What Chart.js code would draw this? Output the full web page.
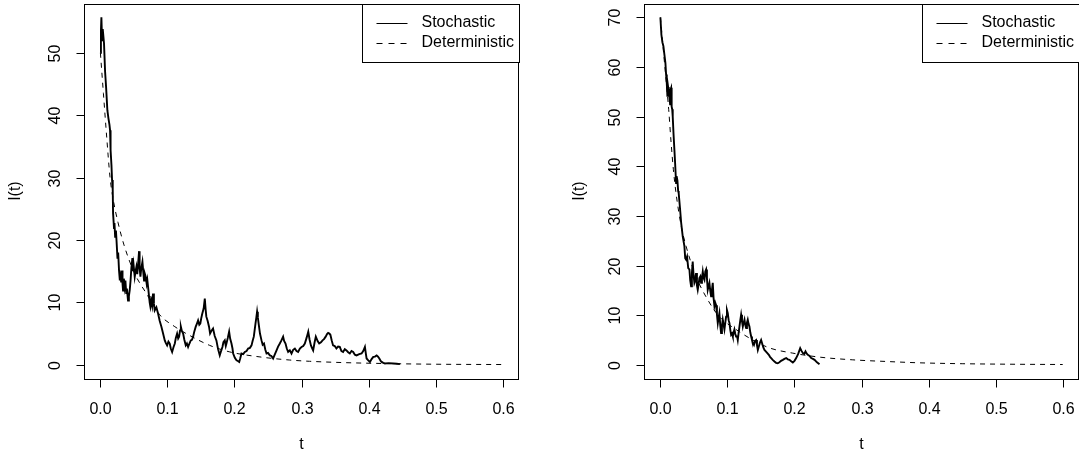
<!DOCTYPE html>
<html>
<head>
<meta charset="utf-8">
<title>I(t): stochastic vs deterministic</title>
<script src="https://cdn.jsdelivr.net/npm/chart.js@4/dist/chart.umd.min.js"></script>
<style>
  html, body { margin: 0; padding: 0; background: #fff; }
  body { width: 1079px; height: 457px; overflow: hidden; position: relative; }
  .panel { position: absolute; top: 0; width: 560px; height: 457px; }
</style>
</head>
<body>
<div class="panel" style="left:0"><canvas id="leftChart" width="560" height="457"></canvas></div>
<div class="panel" style="left:560px"><canvas id="rightChart" width="560" height="457"></canvas></div>
<script>
// tick labels and legend text
const xTicks = [0, 0.1, 0.2, 0.3, 0.4, 0.5, 0.6];
const yTicksLeft = [0, 10, 20, 30, 40, 50];
const yTicksRight = [0, 10, 20, 30, 40, 50, 60, 70];
const seriesNames = ['Stochastic', 'Deterministic'];

// left panel, stochastic path
const leftStochT = [0, 0.0008, 0.0015, 0.0025, 0.0035, 0.0054, 0.0070, 0.0085, 0.0104, 0.0120, 0.0135, 0.0144, 0.0150, 0.0154, 0.0165, 0.0174, 0.0184, 0.0189, 0.0203, 0.0210, 0.0220, 0.0232, 0.0240, 0.0255, 0.0265, 0.0278, 0.0290, 0.0300, 0.0310, 0.0323, 0.0330, 0.0338, 0.0350, 0.0362, 0.0373, 0.0385, 0.0395, 0.0412, 0.0425, 0.0437, 0.0450, 0.0462, 0.0477, 0.0485, 0.0495, 0.0512, 0.0525, 0.0537, 0.0550, 0.0565, 0.0577, 0.0585, 0.0597, 0.0610, 0.0627, 0.0640, 0.0651, 0.0665, 0.0676, 0.0690, 0.0700, 0.0711, 0.0725, 0.0735, 0.0746, 0.0760, 0.0772, 0.0785, 0.0798, 0.0810, 0.0835, 0.0860, 0.0885, 0.0910, 0.0935, 0.0960, 0.0975, 0.0995, 0.1015, 0.1034, 0.1050, 0.1070, 0.1090, 0.1110, 0.1125, 0.1144, 0.1160, 0.1174, 0.1188, 0.1200, 0.1215, 0.1234, 0.1252, 0.1273, 0.1290, 0.1308, 0.1328, 0.1348, 0.1365, 0.1383, 0.1400, 0.1422, 0.1440, 0.1457, 0.1475, 0.1490, 0.1505, 0.1520, 0.1540, 0.1557, 0.1570, 0.1580, 0.1600, 0.1620, 0.1636, 0.1660, 0.1680, 0.1705, 0.1730, 0.1755, 0.1780, 0.1800, 0.1820, 0.1835, 0.1855, 0.1870, 0.1880, 0.1900, 0.1920, 0.1935, 0.1955, 0.1970, 0.1980, 0.2005, 0.2030, 0.2050, 0.2070, 0.2085, 0.2104, 0.2130, 0.2154, 0.2180, 0.2203, 0.2230, 0.2254, 0.2270, 0.2288, 0.2300, 0.2313, 0.2325, 0.2337, 0.2348, 0.2360, 0.2380, 0.2403, 0.2420, 0.2440, 0.2460, 0.2478, 0.2500, 0.2527, 0.2550, 0.2576, 0.2600, 0.2627, 0.2650, 0.2676, 0.2700, 0.2725, 0.2740, 0.2761, 0.2780, 0.2800, 0.2825, 0.2850, 0.2875, 0.2900, 0.2925, 0.2949, 0.2975, 0.3000, 0.3025, 0.3049, 0.3075, 0.3100, 0.3120, 0.3140, 0.3160, 0.3173, 0.3195, 0.3213, 0.3240, 0.3263, 0.3290, 0.3313, 0.3335, 0.3360, 0.3380, 0.3397, 0.3415, 0.3430, 0.3450, 0.3470, 0.3495, 0.3520, 0.3545, 0.3570, 0.3595, 0.3620, 0.3645, 0.3670, 0.3695, 0.3720, 0.3745, 0.3770, 0.3795, 0.3820, 0.3860, 0.3895, 0.3920, 0.3945, 0.3960, 0.3970, 0.3995, 0.4020, 0.4045, 0.4070, 0.4095, 0.4120, 0.4140, 0.4160, 0.4180, 0.4194, 0.4220, 0.4243, 0.4300, 0.4367, 0.4420, 0.4467];
const leftStochI = [50, 53.5, 55.7, 52.0, 53.8, 51.5, 47.0, 44.5, 40.8, 39.5, 38.5, 37.6, 36.0, 34.4, 32.0, 29.6, 28.0, 24.3, 21.9, 22.7, 20.5, 21.5, 20.0, 17.0, 18.0, 15.1, 13.5, 14.8, 13.2, 15.1, 13.0, 11.9, 13.8, 12.5, 13.5, 11.5, 12.2, 10.3, 11.0, 11.9, 13.5, 15.5, 17.1, 15.0, 16.0, 14.1, 15.0, 15.7, 14.5, 16.5, 18.2, 15.5, 14.1, 15.5, 16.5, 14.8, 13.5, 14.5, 14.1, 13.0, 13.6, 12.5, 11.0, 10.0, 9.3, 10.2, 9.5, 11.4, 9.8, 8.7, 9.2, 8.2, 7.0, 6.1, 5.0, 3.9, 3.5, 3.1, 3.7, 3.4, 2.6, 2.05, 2.8, 3.4, 4.3, 5.0, 4.2, 4.5, 5.5, 6.1, 5.4, 5.0, 4.0, 3.1, 3.4, 2.85, 3.4, 3.9, 4.0, 4.5, 5.3, 6.1, 6.6, 7.1, 6.4, 6.6, 7.5, 8.2, 9.0, 10.6, 8.8, 7.7, 7.0, 6.1, 5.0, 5.5, 5.8, 4.6, 3.9, 2.5, 1.5, 2.2, 2.85, 3.6, 3.9, 3.0, 3.4, 4.3, 5.3, 4.2, 3.4, 2.6, 1.8, 1.1, 0.7, 0.6, 0.45, 1.0, 1.8, 1.7, 2.05, 2.2, 2.6, 2.7, 3.1, 3.8, 4.5, 5.5, 6.6, 7.5, 8.5, 7.6, 6.6, 5.0, 3.9, 3.2, 3.4, 2.4, 1.8, 1.9, 1.5, 1.4, 1.0, 1.6, 2.3, 2.9, 3.4, 3.9, 4.5, 3.8, 3.4, 2.6, 2.05, 2.3, 1.8, 2.4, 2.6, 2.2, 2.05, 2.6, 2.85, 3.0, 3.4, 4.3, 5.3, 4.0, 3.1, 2.6, 2.3, 3.6, 4.5, 3.8, 3.4, 3.6, 3.9, 4.1, 4.5, 4.9, 5.1, 5.0, 4.8, 3.9, 3.1, 3.0, 2.6, 2.9, 2.85, 2.2, 2.05, 2.5, 2.3, 2.0, 1.8, 2.2, 2.05, 1.6, 1.5, 1.7, 1.8, 2.2, 2.85, 1.7, 1.0, 0.7, 0.45, 0.9, 1.25, 1.3, 1.5, 1.3, 1.0, 0.6, 0.45, 0.3, 0.2, 0.25, 0.2, 0.15, 0.1];

// left panel, deterministic curve
const leftDetT = [0, 0.0045, 0.0094, 0.0143, 0.0194, 0.0263, 0.0352, 0.0512, 0.0687, 0.0885, 0.111, 0.133, 0.163, 0.193, 0.238, 0.2825, 0.312, 0.36, 0.42, 0.5, 0.6];
const leftDetI = [50, 43.5, 36.5, 30.1, 26.3, 22.8, 19.2, 14.6, 11.4, 8.0, 6.1, 4.7, 3.1, 2.05, 1.25, 0.75, 0.55, 0.35, 0.2, 0.08, 0.03];

// right panel, stochastic path
const rightStochT = [0, 0.0015, 0.0030, 0.0045, 0.0060, 0.0075, 0.0085, 0.0095, 0.0105, 0.0115, 0.0124, 0.0134, 0.0145, 0.0152, 0.0160, 0.0168, 0.0176, 0.0184, 0.0196, 0.0209, 0.0220, 0.0234, 0.0242, 0.0254, 0.0265, 0.0273, 0.0294, 0.0310, 0.0333, 0.0358, 0.0370, 0.0383, 0.0398, 0.0415, 0.0433, 0.0445, 0.0458, 0.0470, 0.0482, 0.0495, 0.0507, 0.0520, 0.0532, 0.0545, 0.0557, 0.0570, 0.0582, 0.0595, 0.0607, 0.0620, 0.0632, 0.0645, 0.0657, 0.0670, 0.0682, 0.0694, 0.0706, 0.0718, 0.0731, 0.0743, 0.0756, 0.0768, 0.0781, 0.0793, 0.0806, 0.0818, 0.0831, 0.0843, 0.0856, 0.0868, 0.0880, 0.0893, 0.0905, 0.0918, 0.0930, 0.0943, 0.0955, 0.0968, 0.0980, 0.0993, 0.1005, 0.1018, 0.1030, 0.1043, 0.1055, 0.1068, 0.1080, 0.1092, 0.1104, 0.1117, 0.1129, 0.1142, 0.1154, 0.1167, 0.1179, 0.1192, 0.1204, 0.1217, 0.1229, 0.1242, 0.1254, 0.1266, 0.1279, 0.1291, 0.1303, 0.1316, 0.1328, 0.1341, 0.1354, 0.1366, 0.1378, 0.1395, 0.1410, 0.1428, 0.1440, 0.1453, 0.1470, 0.1488, 0.1502, 0.1520, 0.1535, 0.1552, 0.1585, 0.1617, 0.1635, 0.1652, 0.1675, 0.1701, 0.1725, 0.1751, 0.1775, 0.1800, 0.1826, 0.1850, 0.1876, 0.1900, 0.1925, 0.1950, 0.1975, 0.2000, 0.2025, 0.2055, 0.2085, 0.2105, 0.2125, 0.2145, 0.2164, 0.2180, 0.2199, 0.2225, 0.2249, 0.2275, 0.2299, 0.2335, 0.2373];
const rightStochI = [70, 66.5, 65.0, 64.2, 62.5, 60.8, 58.5, 56.8, 54.0, 56.0, 55.1, 54.1, 52.5, 55.5, 55.8, 52.0, 51.5, 50.0, 46.5, 43.3, 40.5, 36.6, 38.0, 37.1, 35.0, 34.6, 31.3, 28.6, 25.9, 23.9, 21.5, 21.2, 21.8, 19.5, 19.2, 17.0, 15.8, 18.5, 20.8, 18.0, 16.5, 17.0, 18.5, 16.0, 15.1, 16.2, 17.5, 17.8, 16.5, 17.5, 18.8, 17.5, 17.1, 18.8, 19.2, 17.5, 15.1, 15.8, 16.5, 15.0, 13.8, 15.0, 16.5, 13.5, 11.8, 12.5, 12.0, 10.2, 8.4, 9.5, 10.4, 8.0, 6.4, 7.8, 9.1, 8.0, 7.1, 8.5, 9.7, 11.0, 10.4, 9.0, 8.4, 7.0, 6.05, 6.3, 5.7, 6.5, 7.1, 6.2, 5.7, 5.9, 5.0, 6.5, 7.7, 9.0, 10.1, 8.8, 7.7, 8.5, 9.1, 8.0, 7.4, 8.5, 9.1, 8.2, 7.7, 6.5, 5.7, 5.0, 4.4, 4.0, 4.8, 5.0, 4.0, 3.0, 3.8, 4.6, 5.0, 4.2, 3.5, 3.0, 2.5, 2.0, 1.6, 1.35, 1.0, 0.67, 0.4, 0.3, 0.5, 0.8, 1.0, 1.2, 1.35, 1.1, 1.0, 0.7, 0.47, 0.8, 1.35, 2.2, 3.36, 2.8, 2.35, 2.2, 2.7, 2.3, 2.0, 1.8, 1.35, 1.2, 1.0, 0.5, 0.1];

// right panel, deterministic curve
const rightDetT = [0, 0.0075, 0.0124, 0.016, 0.0194, 0.0234, 0.031, 0.0383, 0.0532, 0.0706, 0.088, 0.113, 0.1378, 0.1627, 0.1975, 0.2373, 0.287, 0.337, 0.3866, 0.45, 0.52, 0.6];
const rightDetI = [70, 58.8, 51.4, 44.7, 39.3, 34.5, 28.0, 23.9, 17.8, 13.1, 9.7, 7.1, 5.0, 3.4, 2.35, 1.55, 1.0, 0.67, 0.4, 0.22, 0.12, 0.06];

const FONT = '16px "Liberation Sans", Arial, Helvetica, sans-serif';

function toPoints(ts, vs) {
    return ts.map((t, i) => ({ x: t, y: vs[i] }));
}

// R-style frame, axes, titles and legend, placed through the chart's scales
const rAxes = {
    id: 'rAxes',
    afterDraw(chart, args, opts) {
        const ctx = chart.ctx;
        const a = chart.chartArea;
        const xs = chart.scales.x;
        const ys = chart.scales.y;
        ctx.save();
        ctx.strokeStyle = '#000';
        ctx.fillStyle = '#000';
        ctx.lineWidth = 1;
        ctx.setLineDash([]);
        ctx.strokeRect(Math.round(a.left) + 0.5, Math.round(a.top) + 0.5,
            Math.round(a.right - a.left), Math.round(a.bottom - a.top));

        ctx.font = FONT;
        ctx.textAlign = 'center';
        ctx.textBaseline = 'middle';
        const by = Math.round(a.bottom) + 0.5;
        xTicks.forEach(t => {
            const px = Math.round(xs.getPixelForValue(t)) + 0.5;
            ctx.beginPath();
            ctx.moveTo(px, by);
            ctx.lineTo(px, by + 8);
            ctx.stroke();
            ctx.fillText(t.toFixed(1), px, a.bottom + 30.5);
        });

        const lx = Math.round(a.left) + 0.5;
        opts.yTicks.forEach(v => {
            const py = Math.round(ys.getPixelForValue(v)) + 0.5;
            ctx.beginPath();
            ctx.moveTo(lx - 8, py);
            ctx.lineTo(lx, py);
            ctx.stroke();
            ctx.save();
            ctx.translate(a.left - 29, py);
            ctx.rotate(-Math.PI / 2);
            ctx.fillText(String(v), 0, 0);
            ctx.restore();
        });

        ctx.fillText('t', (a.left + a.right) / 2, 445);
        ctx.save();
        ctx.translate(opts.yTitleX, (a.top + a.bottom) / 2);
        ctx.rotate(-Math.PI / 2);
        ctx.fillText('I(t)', 0, 0);
        ctx.restore();

        // legend
        const boxL = Math.round(a.right - 157) + 0.5;
        const boxT = Math.round(a.top) + 0.5;
        ctx.fillStyle = '#fff';
        ctx.fillRect(boxL, boxT, Math.round(a.right) + 0.5 - boxL, 58);
        ctx.strokeRect(boxL, boxT, Math.round(a.right) + 0.5 - boxL, 58);
        ctx.fillStyle = '#000';
        ctx.textAlign = 'left';
        const rows = [a.top + 19.5, a.top + 39.5];
        chart.data.datasets.forEach((ds, i) => {
            ctx.setLineDash(i === 1 ? [6, 6] : []);
            ctx.lineWidth = 1;
            ctx.beginPath();
            ctx.moveTo(boxL + 14, Math.round(rows[i]) + 0.5);
            ctx.lineTo(boxL + 45, Math.round(rows[i]) + 0.5);
            ctx.stroke();
            ctx.setLineDash([]);
            ctx.fillText(ds.label, boxL + 59, rows[i]);
        });
        ctx.restore();
    }
};

function makePanel(canvasId, stochT, stochI, detT, detI, yMin, yMax, yTicks, yTitleX) {
    const el = document.getElementById(canvasId);
    return new Chart(el.getContext('2d'), {
        type: 'line',
        data: {
            datasets: [{
                label: seriesNames[0],
                data: toPoints(stochT, stochI),
                borderColor: '#000',
                borderWidth: 1.9,
                pointRadius: 0,
                tension: 0,
                fill: false
            }, {
                label: seriesNames[1],
                data: toPoints(detT, detI),
                borderColor: '#000',
                borderWidth: 1,
                borderDash: [5, 5],
                pointRadius: 0,
                cubicInterpolationMode: 'monotone',
                fill: false
            }]
        },
        options: {
            responsive: false,
            animation: false,
            events: [],
            layout: { padding: { left: 84.3, right: 41.2, top: 3.5, bottom: 78.3 } },
            plugins: {
                legend: { display: false },
                tooltip: { enabled: false },
                rAxes: { yTicks: yTicks, yTitleX: yTitleX }
            },
            scales: {
                x: { type: 'linear', min: -0.024, max: 0.624, display: false },
                y: { type: 'linear', min: yMin, max: yMax, display: false }
            }
        },
        plugins: [rAxes]
    });
}

makePanel('leftChart', leftStochT, leftStochI, leftDetT, leftDetI, -2.24, 57.9, yTicksLeft, 16);
makePanel('rightChart', rightStochT, rightStochI, rightDetT, rightDetI, -2.8, 72.8, yTicksRight, 20);
</script>
</body>
</html>
